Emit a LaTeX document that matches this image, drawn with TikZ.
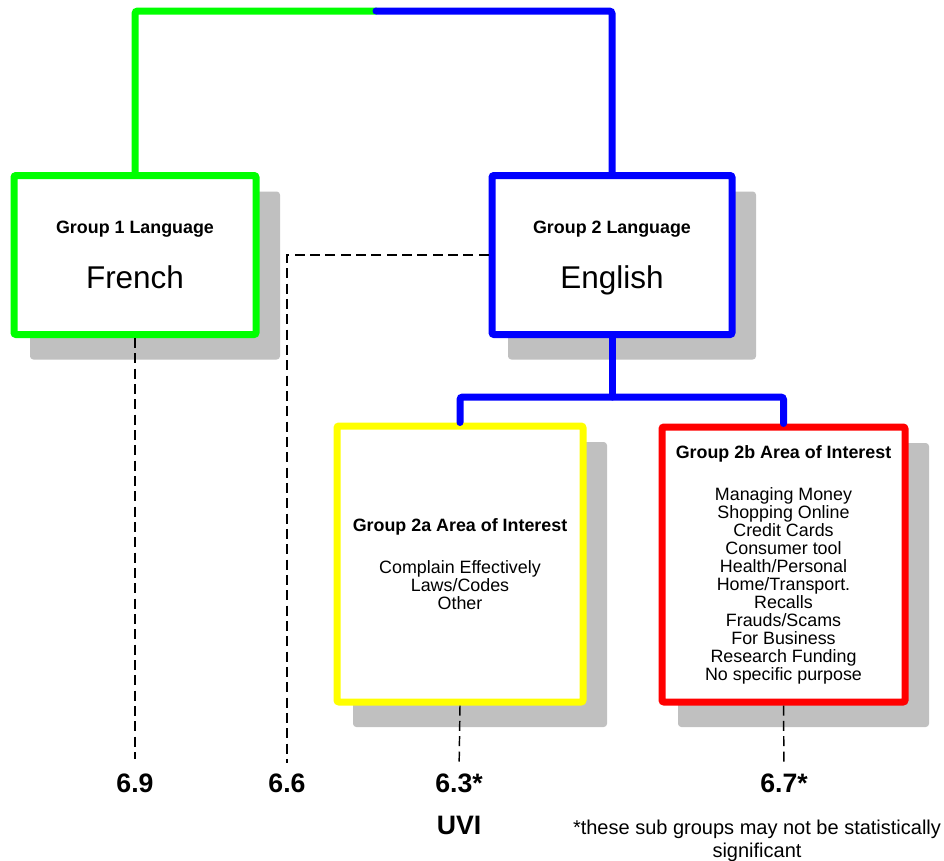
\documentclass[tikz,border=0pt]{standalone}
\usepackage{fontspec}
\setmainfont{Liberation Sans}
\usetikzlibrary{backgrounds,calc}
\definecolor{cgreen}{RGB}{0,255,0}
\definecolor{cblue}{RGB}{0,0,255}
\definecolor{cyellow}{RGB}{255,255,0}
\definecolor{cred}{RGB}{255,0,0}
\definecolor{cshadow}{RGB}{192,192,192}
\newcommand{\nodepth}[1]{\raisebox{0pt}[\height][0pt]{#1}}
\begin{document}
\begin{tikzpicture}[x=0.75pt,y=-0.75pt,
  boxnode/.style={draw, line width=5.25pt, rounded corners=1.5pt, fill=white, align=center, inner sep=0pt,
    font=\fontsize{13.4}{13.5}\selectfont},
  conn/.style={line width=5.25pt, line cap=round, rounded corners=2pt},
  dashconn/.style={draw=black, line width=1.1pt, dash pattern=on 7.5pt off 4pt},
  val/.style={font=\bfseries\fontsize{20}{24}\selectfont, inner sep=0pt},
  shadowbox/.style={fill=cshadow, rounded corners=2.5pt}
]
\useasboundingbox (0,0) rectangle (944,860);

\node[boxnode, draw=cgreen, minimum width=181.5pt, minimum height=119.25pt] (fr) at (135,255)
  {\textbf{Group 1 Language}\\[20pt]{\fontsize{23.6}{24}\selectfont\nodepth{French}}};
\node[boxnode, draw=cblue, minimum width=180pt, minimum height=119.25pt] (en) at (612,255)
  {\textbf{Group 2 Language}\\[20pt]{\fontsize{23.6}{24}\selectfont\nodepth{English}}};
\node[boxnode, draw=cyellow, minimum width=184.5pt, minimum height=207pt] (ya) at (460,564)
  {\textbf{Group 2a Area of Interest}\\[18pt]Complain Effectively\\Laws/Codes\\Other};
\node[boxnode, draw=cred, minimum width=182.25pt, minimum height=206.25pt] (rb) at (783.5,564.5)
  {\textbf{Group 2b Area of Interest}\\[18pt]Managing Money\\Shopping Online\\Credit Cards\\Consumer tool\\Health/Personal\\Home/Transport.\\Recalls\\Frauds/Scams\\For Business\\Research Funding\\No specific purpose};

\begin{scope}[on background layer]
  \fill[white] (0,0) rectangle (944,860);
  \foreach \n in {fr,en,ya,rb}
    \fill[shadowbox] ($(\n.north west)+(19.5,19.5)$) rectangle ($(\n.south east)+(20.5,21.5)$);
\end{scope}

\coordinate (tmid) at (376,11);
\coordinate (bmid) at (612,397);
\draw[conn, draw=cgreen] (fr.north) |- (tmid);
\draw[conn, draw=cblue] (tmid) -| (en.north);
\draw[conn, draw=cblue] (en.south) -- (bmid);
\draw[conn, draw=cblue] (ya.north) |- (bmid) -| (rb.north);

\node[val] (v69) at (135,783) {6.9};
\node[val] (v66) at (287,783) {6.6};
\node[val] (v63) at (459,783) {6.3*};
\node[val] (v67) at (784,783) {6.7*};
\node[val] (uvi) at (459,825) {UVI};
\node[font=\fontsize{15}{17.25}\selectfont, align=center, inner sep=0pt] (note) at (757,841)
  {*these sub groups may not be statistically\\significant};

\draw[dashconn, shorten >=11pt] (fr.south) -- (v69.north);
\draw[dashconn, shorten >=7.5pt] (en.west) -| (v66.north);
\draw[dashconn, shorten >=8pt] (ya.south) -- (v63.north);
\draw[dashconn, shorten >=8pt] (rb.south) -- (v67.north);
\end{tikzpicture}
\end{document}
